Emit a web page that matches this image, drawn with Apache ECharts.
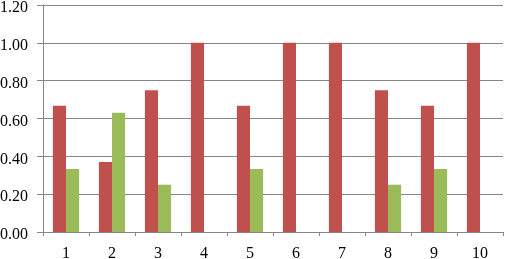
<!DOCTYPE html>
<html>
<head>
<meta charset="utf-8">
<script src="https://cdn.jsdelivr.net/npm/echarts@6/dist/echarts.min.js"></script>
<style>
html,body{margin:0;padding:0;background:#fff;}
#c{width:505px;height:259px;}
</style>
</head>
<body>
<div id="c"></div>
<script>
var categories = ['1','2','3','4','5','6','7','8','9','10'];
var redValues = [0.667, 0.37, 0.75, 1.0, 0.667, 1.0, 1.0, 0.75, 0.667, 1.0];
var greenValues = [0.333, 0.63, 0.25, 0, 0.333, 0, 0, 0.25, 0.333, 0];
var yMin = 0, yMax = 1.2, yStep = 0.2;

var chart = echarts.init(document.getElementById('c'), null, {renderer:'canvas'});
chart.setOption({
  animation: false,
  backgroundColor: '#fff',
  grid: {left: 43, right: 2, top: 5, bottom: 27, containLabel: false, outerBoundsMode: 'none'},
  xAxis: {
    type: 'category',
    data: categories,
    axisLine: {show: true, lineStyle: {color: '#868686', width: 1}},
    axisTick: {show: true, length: 4, inside: false, lineStyle: {color: '#868686'}},
    axisLabel: {color: '#000', fontFamily: 'Liberation Serif', fontSize: 16, margin: 14}
  },
  yAxis: {
    type: 'value',
    min: yMin, max: yMax, interval: yStep,
    axisLine: {show: true, lineStyle: {color: '#868686', width: 1}},
    axisTick: {show: true, length: 6, inside: false, lineStyle: {color: '#868686'}},
    splitLine: {show: true, lineStyle: {color: '#868686', width: 1}},
    axisLabel: {color: '#000', fontFamily: 'Liberation Serif', fontSize: 16, margin: 15,
      formatter: function(v){ return '{a|' + v.toFixed(2) + '}'; },
      rich: {a: {fontFamily: 'Liberation Serif', fontSize: 16, color: '#000', padding: [6, 0, 0, 0]}}}
  },
  series: [
    {type: 'bar', data: redValues, itemStyle: {color: '#c0504d'}, barGap: '0%', barCategoryGap: '43%'},
    {type: 'bar', data: greenValues, itemStyle: {color: '#9bbb59'}, barGap: '0%', barCategoryGap: '43%'}
  ]
});
</script>
</body>
</html>
